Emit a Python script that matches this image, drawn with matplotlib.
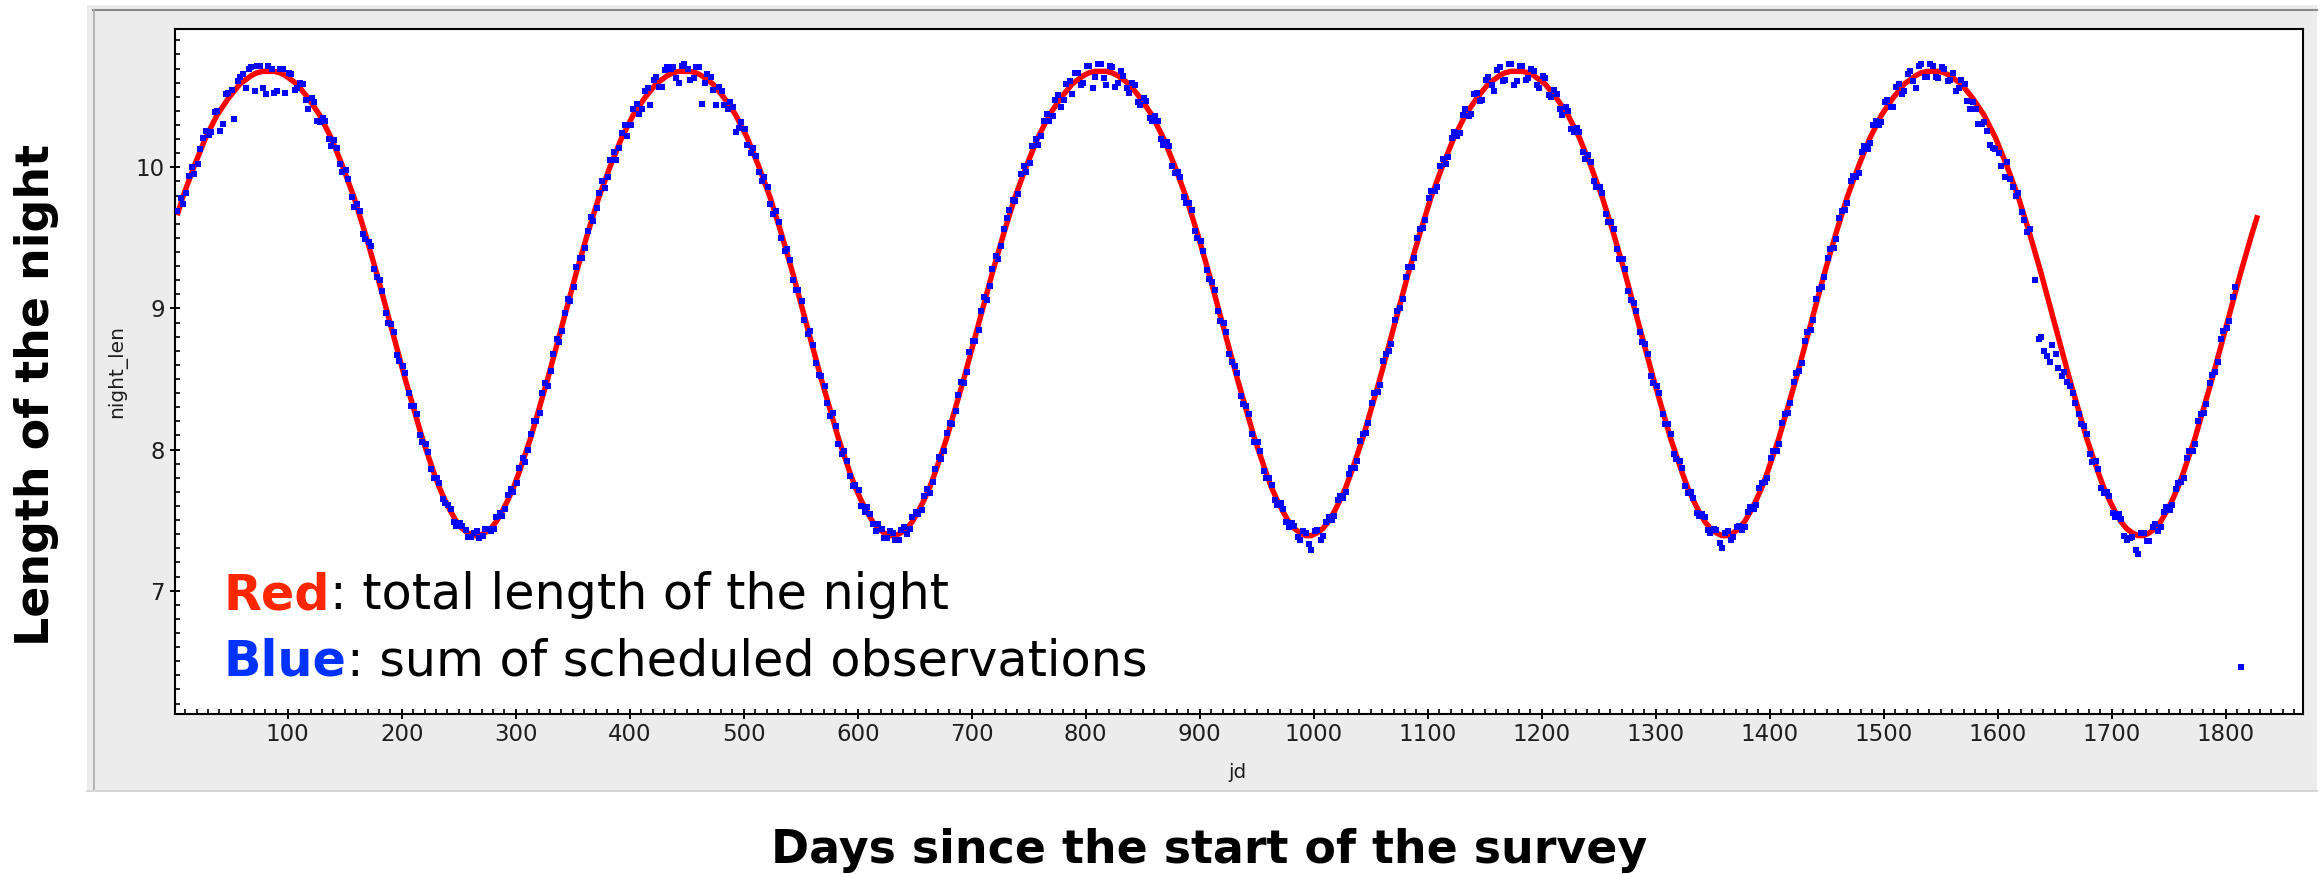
import numpy as np
import matplotlib
matplotlib.use("Agg")
import matplotlib.pyplot as plt
from matplotlib.patches import Rectangle
from matplotlib.lines import Line2D
from matplotlib.ticker import MultipleLocator

W, H = 2323, 874

# samples every 5 days of the survey; the schedule has a second set 3 days later
days = np.arange(3, 1829, 5)
days_b = np.arange(6, 1827, 5)

# total length of the night (hours)
night_len = [
    # year 1
    9.66, 9.79, 9.90, 10.01, 10.11, 10.21, 10.29, 10.37, 10.43, 10.49, 10.54, 10.59, 10.62, 10.65, 10.67, 10.68, 10.68,
    10.68, 10.67, 10.65, 10.62, 10.59, 10.54, 10.49, 10.43, 10.37, 10.29, 10.21, 10.11, 10.01, 9.90, 9.79, 9.66, 9.53, 9.39,
    9.25, 9.10, 8.95, 8.80, 8.65, 8.50, 8.36, 8.22, 8.08, 7.96, 7.84, 7.73, 7.64, 7.56, 7.49, 7.44, 7.41, 7.39,
    7.39, 7.41, 7.44, 7.49, 7.56, 7.64, 7.73, 7.84, 7.96, 8.08, 8.22, 8.36, 8.50, 8.65, 8.80, 8.95, 9.10, 9.25, 9.39, 9.53,
    # year 2
    9.66, 9.79, 9.90, 10.01, 10.11, 10.21, 10.29, 10.37, 10.43, 10.49, 10.54, 10.59, 10.62, 10.65, 10.67, 10.68, 10.68,
    10.68, 10.67, 10.65, 10.62, 10.59, 10.54, 10.49, 10.43, 10.37, 10.29, 10.21, 10.11, 10.01, 9.90, 9.79, 9.66, 9.53, 9.39,
    9.25, 9.10, 8.95, 8.80, 8.65, 8.50, 8.36, 8.22, 8.08, 7.96, 7.84, 7.73, 7.64, 7.56, 7.49, 7.44, 7.41, 7.39,
    7.39, 7.41, 7.44, 7.49, 7.56, 7.64, 7.73, 7.84, 7.96, 8.08, 8.22, 8.36, 8.50, 8.65, 8.80, 8.95, 9.10, 9.25, 9.39, 9.53,
    # year 3
    9.66, 9.79, 9.90, 10.01, 10.11, 10.21, 10.29, 10.37, 10.43, 10.49, 10.54, 10.59, 10.62, 10.65, 10.67, 10.68, 10.68,
    10.68, 10.67, 10.65, 10.62, 10.59, 10.54, 10.49, 10.43, 10.37, 10.29, 10.21, 10.11, 10.01, 9.90, 9.79, 9.66, 9.53, 9.39,
    9.25, 9.10, 8.95, 8.80, 8.65, 8.50, 8.36, 8.22, 8.08, 7.96, 7.84, 7.73, 7.64, 7.56, 7.49, 7.44, 7.41, 7.39,
    7.39, 7.41, 7.44, 7.49, 7.56, 7.64, 7.73, 7.84, 7.96, 8.08, 8.22, 8.36, 8.50, 8.65, 8.80, 8.95, 9.10, 9.25, 9.39, 9.53,
    # year 4
    9.66, 9.79, 9.90, 10.01, 10.11, 10.21, 10.29, 10.37, 10.43, 10.49, 10.54, 10.59, 10.62, 10.65, 10.67, 10.68, 10.68,
    10.68, 10.67, 10.65, 10.62, 10.59, 10.54, 10.49, 10.43, 10.37, 10.29, 10.21, 10.11, 10.01, 9.90, 9.79, 9.66, 9.53, 9.39,
    9.25, 9.10, 8.95, 8.80, 8.65, 8.50, 8.36, 8.22, 8.08, 7.96, 7.84, 7.73, 7.64, 7.56, 7.49, 7.44, 7.41, 7.39,
    7.39, 7.41, 7.44, 7.49, 7.56, 7.64, 7.73, 7.84, 7.96, 8.08, 8.22, 8.36, 8.50, 8.65, 8.80, 8.95, 9.10, 9.25, 9.39, 9.53,
    # year 5
    9.66, 9.79, 9.90, 10.01, 10.11, 10.21, 10.29, 10.37, 10.43, 10.49, 10.54, 10.59, 10.62, 10.65, 10.67, 10.68, 10.68,
    10.68, 10.67, 10.65, 10.62, 10.59, 10.54, 10.49, 10.43, 10.37, 10.29, 10.21, 10.11, 10.01, 9.90, 9.79, 9.66, 9.53, 9.39,
    9.25, 9.10, 8.95, 8.80, 8.65, 8.50, 8.36, 8.22, 8.08, 7.96, 7.84, 7.73, 7.64, 7.56, 7.49, 7.44, 7.41, 7.39,
    7.39, 7.41, 7.44, 7.49, 7.56, 7.64, 7.73, 7.84, 7.96, 8.08, 8.22, 8.36, 8.50, 8.65, 8.80, 8.95, 9.10, 9.25, 9.39, 9.53,
    9.66,
]

nan = np.nan
# sum of scheduled observations (hours) on the `days` grid, nan where nothing was scheduled
sched_len = [
    # year 1
    9.69, 9.74, 9.94, 9.95, 10.13, 10.26, 10.25, 10.40, 10.31, 10.53, 10.34, 10.64, 10.56, 10.71, 10.72, 10.56, 10.72,
    10.53, 10.70, 10.53, 10.66, 10.56, 10.59, 10.41, 10.46, 10.32, 10.33, 10.15, 10.14, 9.97, 9.92, 9.72, 9.69, 9.49, 9.44,
    9.22, 9.12, 8.90, 8.83, 8.63, 8.54, 8.31, 8.25, 8.05, 7.98, 7.80, 7.76, 7.62, 7.58, 7.46, 7.46, 7.38, 7.41,
    7.37, 7.44, 7.42, 7.52, 7.53, 7.68, 7.70, 7.87, 7.91, 8.11, 8.20, 8.40, 8.45, 8.68, 8.76, 8.97, 9.05, 9.29, 9.36, 9.55,
    # year 2
    9.62, 9.82, 9.85, 10.05, 10.05, 10.24, 10.22, 10.41, 10.38, 10.54, 10.44, 10.64, 10.57, 10.71, 10.71, 10.60, 10.73,
    10.62, 10.71, 10.45, 10.66, 10.55, 10.57, 10.44, 10.46, 10.25, 10.32, 10.16, 10.14, 9.97, 9.93, 9.74, 9.69, 9.50, 9.42,
    9.20, 9.13, 8.92, 8.84, 8.61, 8.52, 8.33, 8.26, 8.04, 7.99, 7.81, 7.75, 7.60, 7.59, 7.47, 7.47, 7.37, 7.42,
    7.36, 7.43, 7.40, 7.52, 7.54, 7.67, 7.69, 7.86, 7.93, 8.12, 8.18, 8.39, 8.47, 8.69, 8.77, 8.98, 9.06, 9.28, 9.35, 9.56,
    # year 3
    9.70, 9.76, 9.95, 9.97, 10.15, 10.16, 10.33, 10.33, 10.48, 10.43, 10.59, 10.52, 10.67, 10.60, 10.72, 10.64, 10.73,
    10.58, 10.71, 10.60, 10.65, 10.53, 10.58, 10.44, 10.47, 10.33, 10.33, 10.16, 10.15, 9.96, 9.93, 9.75, 9.70, 9.50, 9.41,
    9.21, 9.13, 8.91, 8.83, 8.62, 8.54, 8.32, 8.25, 8.05, 7.99, 7.80, 7.75, 7.61, 7.58, 7.45, 7.46, 7.36, 7.41,
    7.29, 7.43, 7.39, 7.52, 7.53, 7.67, 7.70, 7.87, 7.92, 8.11, 8.19, 8.40, 8.46, 8.68, 8.75, 8.98, 9.07, 9.29, 9.36, 9.56,
    # year 4
    9.63, 9.83, 9.86, 10.06, 10.07, 10.25, 10.24, 10.41, 10.38, 10.53, 10.48, 10.64, 10.54, 10.71, 10.62, 10.73, 10.61,
    10.72, 10.63, 10.68, 10.56, 10.63, 10.50, 10.52, 10.37, 10.40, 10.25, 10.25, 10.06, 10.04, 9.86, 9.82, 9.61, 9.56, 9.35,
    9.28, 9.06, 8.98, 8.76, 8.68, 8.47, 8.40, 8.18, 8.11, 7.93, 7.87, 7.69, 7.66, 7.53, 7.52, 7.41, 7.43, 7.30,
    7.42, 7.38, 7.46, 7.45, 7.59, 7.61, 7.76, 7.80, 7.99, 8.04, 8.25, 8.33, 8.54, 8.61, 8.83, 8.92, 9.14, 9.22, 9.42, 9.49,
    # year 5
    9.69, 9.75, 9.94, 9.96, 10.15, 10.17, 10.33, 10.32, 10.48, 10.43, 10.59, 10.54, 10.68, 10.56, 10.73, 10.64, 10.72,
    10.63, 10.70, 10.62, 10.54, 10.62, 10.47, 10.46, 10.31, 10.32, 10.16, 10.13, 10.01, 10.04, 9.86, 9.82, 9.63, 9.56, 9.20,
    8.80, 8.66, 8.74, 8.58, 8.55, 8.45, 8.33, 8.18, 8.11, 7.91, 7.86, 7.69, 7.67, 7.52, 7.51, 7.36, 7.38, 7.26,
    7.41, 7.35, 7.47, 7.45, 7.59, 7.61, 7.76, 7.80, 7.99, 8.04, 8.25, 8.32, 8.53, 8.62, 8.84, 8.91, 9.15, 6.46, nan, nan,
    nan,
]

# scheduled hours on the `days_b` grid
sched_len_b = [
    # year 1
    9.78, 9.82, 10.00, 10.02, 10.21, 10.23, 10.39, 10.26, 10.52, 10.55, 10.61, 10.66, 10.70, 10.54, 10.72, 10.52, 10.70,
    10.54, 10.70, 10.67, 10.55, 10.60, 10.48, 10.49, 10.33, 10.35, 10.20, 10.19, 10.02, 9.98, 9.79, 9.74, 9.53, 9.47, 9.28,
    9.20, 8.97, 8.89, 8.67, 8.59, 8.40, 8.31, 8.10, 8.04, 7.86, 7.80, 7.65, 7.61, 7.49, 7.48, 7.43, 7.38, 7.42,
    7.39, 7.44, 7.44, 7.55, 7.58, 7.72, 7.76, 7.94, 8.00, 8.20, 8.26, 8.47, 8.56, 8.78, 8.84, 9.07, 9.15, 9.36, 9.43, 9.65,
    # year 2
    9.71, 9.90, 9.93, 10.11, 10.14, 10.30, 10.30, 10.45, 10.41, 10.56, 10.62, 10.57, 10.69, 10.70, 10.63, 10.72, 10.70,
    10.63, 10.71, 10.60, 10.64, 10.44, 10.54, 10.41, 10.43, 10.28, 10.27, 10.10, 10.08, 9.90, 9.86, 9.67, 9.61, 9.41, 9.34,
    9.13, 9.05, 8.82, 8.74, 8.53, 8.45, 8.24, 8.17, 7.97, 7.92, 7.74, 7.71, 7.56, 7.54, 7.42, 7.44, 7.37, 7.41,
    7.36, 7.45, 7.44, 7.56, 7.57, 7.72, 7.77, 7.95, 7.99, 8.19, 8.27, 8.48, 8.55, 8.77, 8.85, 9.08, 9.16, 9.37, 9.44, 9.64,
    # year 3
    9.77, 9.81, 10.01, 10.03, 10.20, 10.22, 10.38, 10.36, 10.51, 10.48, 10.61, 10.67, 10.58, 10.72, 10.56, 10.73, 10.63,
    10.72, 10.57, 10.68, 10.56, 10.60, 10.46, 10.49, 10.35, 10.36, 10.20, 10.18, 10.01, 9.97, 9.79, 9.75, 9.55, 9.48, 9.27,
    9.19, 8.98, 8.90, 8.68, 8.59, 8.38, 8.31, 8.11, 8.05, 7.85, 7.80, 7.64, 7.62, 7.49, 7.48, 7.38, 7.42, 7.33,
    7.42, 7.36, 7.49, 7.50, 7.64, 7.66, 7.83, 7.87, 8.06, 8.12, 8.33, 8.41, 8.63, 8.70, 8.92, 9.00, 9.22, 9.29, 9.50, 9.57,
    # year 4
    9.78, 9.83, 10.01, 10.02, 10.21, 10.22, 10.37, 10.36, 10.52, 10.47, 10.62, 10.58, 10.69, 10.61, 10.73, 10.58, 10.72,
    10.62, 10.70, 10.58, 10.65, 10.51, 10.55, 10.41, 10.43, 10.27, 10.28, 10.11, 10.09, 9.90, 9.86, 9.67, 9.61, 9.42, 9.35,
    9.12, 9.04, 8.83, 8.75, 8.52, 8.45, 8.25, 8.18, 7.97, 7.92, 7.74, 7.70, 7.55, 7.54, 7.43, 7.44, 7.34, 7.41,
    7.36, 7.45, 7.43, 7.56, 7.58, 7.73, 7.77, 7.94, 7.99, 8.19, 8.26, 8.48, 8.56, 8.77, 8.85, 9.07, 9.15, 9.36, 9.43, 9.64,
    # year 5
    9.70, 9.90, 9.93, 10.11, 10.13, 10.30, 10.30, 10.46, 10.43, 10.57, 10.52, 10.66, 10.61, 10.72, 10.64, 10.73, 10.64,
    10.71, 10.61, 10.67, 10.56, 10.59, 10.41, 10.41, 10.31, 10.26, 10.14, 10.10, 9.93, 9.92, 9.80, 9.68, 9.54, nan, 8.78,
    8.70, 8.62, 8.68, 8.52, 8.48, 8.40, 8.25, 8.17, 7.97, 7.92, 7.73, 7.70, 7.55, 7.54, 7.39, 7.37, 7.29, 7.41,
    7.35, 7.45, 7.42, 7.56, 7.57, 7.72, 7.77, 7.94, 7.99, 8.20, 8.26, 8.47, 8.55, 8.78, 8.86, 9.08, nan, nan, nan, nan,
]

red_note = ["Red", ": total length of the night"]
blue_note = ["Blue", ": sum of scheduled observations"]


def fx(px):
    return px / W


def fy(py):
    return 1 - py / H


fig = plt.figure(figsize=(W / 100, H / 100), dpi=100)
fig.patch.set_facecolor("white")

# grey plot window behind the axes
fig.patches.append(Rectangle((fx(87), fy(791)), (2317 - 87) / W, (791 - 5) / H,
                             transform=fig.transFigure, facecolor="#ececec",
                             edgecolor="none", zorder=-2))
fig.lines.append(Line2D([fx(93), fx(2317)], [fy(9.5), fy(9.5)], transform=fig.transFigure,
                        color="#8a8a8a", lw=1.5, zorder=-1))
fig.lines.append(Line2D([fx(93.5), fx(93.5)], [fy(9.5), fy(791)], transform=fig.transFigure,
                        color="#ababab", lw=1.2, zorder=-1))
fig.lines.append(Line2D([fx(87), fx(2317)], [fy(790.5), fy(790.5)], transform=fig.transFigure,
                        color="#d6d6d6", lw=1.5, zorder=-1))

ax = fig.add_axes([fx(175), fy(714), (2302.7 - 175) / W, (714 - 29) / H])
ax.set_facecolor("white")

ax.plot(days, night_len, color="#ff0000", lw=3.9, solid_capstyle="butt", zorder=2)
for dd, vals in [(days, sched_len), (days_b, sched_len_b)]:
    ax.scatter(dd, vals, s=20, marker="s", color="#0000ff", linewidths=0, zorder=3)

ax.set_xlim(1.1, 1867.5)
ax.set_ylim(6.126, 10.98)

ax.xaxis.set_major_locator(MultipleLocator(100))
ax.xaxis.set_minor_locator(MultipleLocator(10))
ax.yaxis.set_major_locator(MultipleLocator(1))
ax.yaxis.set_minor_locator(MultipleLocator(0.1))

ax.tick_params(which="major", direction="inout", length=6.5, width=1.4, labelsize=16.5,
               labelcolor="#1e1e1e", top=False, right=False)
ax.tick_params(which="minor", direction="in", length=3.6, width=1.2, top=False, right=False)
ax.tick_params(axis="x", which="major", pad=3)
ax.tick_params(axis="y", which="major", pad=4)

for sp in ax.spines.values():
    sp.set_linewidth(1.5)
    sp.set_color("black")

fig.text(fx(117), fy(371), "night_len", rotation=90, ha="center", va="center",
         fontsize=14.5, color="#1e1e1e")
fig.text(fx(1238), fy(773), "jd", ha="center", va="center", fontsize=14.5, color="#1e1e1e")

# big annotations round the plot
fig.text(fx(37), fy(395), "Length of the night", rotation=90, ha="center", va="center",
         fontsize=33, fontweight="bold", color="black")
fig.text(fx(1209), fy(863), "Days since the start of the survey", ha="center",
         va="baseline", fontsize=33, fontweight="bold", color="black")

renderer = fig.canvas.get_renderer()
for (word, rest), colour, base in [(red_note, "#ff2600", 609), (blue_note, "#0033ff", 676)]:
    t = fig.text(fx(224), fy(base), word, color=colour, fontsize=35.5, fontweight="bold",
                 va="baseline", ha="left")
    bb = t.get_window_extent(renderer)
    fig.text(bb.x1 / W, fy(base), rest, color="black", fontsize=35.5, va="baseline", ha="left")

fig.savefig("out.png", dpi=100, facecolor="white")
